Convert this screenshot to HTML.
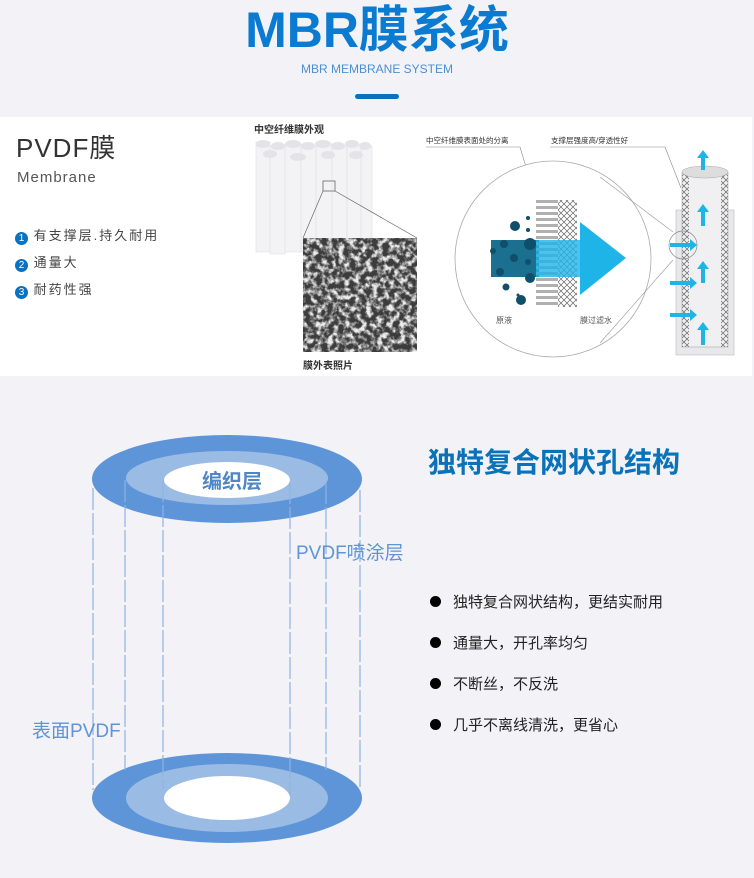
<!DOCTYPE html>
<html><head><meta charset="utf-8"><style>
html,body{margin:0;padding:0}
body{width:754px;height:878px;background:#f2f2f7;position:relative;overflow:hidden;font-family:"Liberation Sans","Noto Sans CJK SC",sans-serif}
.a{position:absolute;white-space:nowrap}
</style></head><body>
<div class="a" style="left:0;top:0;width:754px;text-align:center;top:2px;font-size:50px;font-weight:bold;color:#0a7bd0;line-height:56px">MBR膜系统</div>
<div class="a" style="left:0;width:754px;text-align:center;top:62px;font-size:12px;color:#4a90d4">MBR MEMBRANE SYSTEM</div>
<div class="a" style="left:355px;top:94px;width:44px;height:5px;border-radius:3px;background:#0a72b8"></div>

<div class="a" style="left:0;top:117px;width:752px;height:259px;background:#fff"></div>
<div class="a" style="left:16px;top:128px;font-size:26px;color:#333;letter-spacing:1px">PVDF膜</div>
<div class="a" style="left:17px;top:169px;font-size:15px;color:#555;letter-spacing:1px">Membrane</div>
<div class="a" style="left:15px;top:222px;font-size:13px;color:#444;line-height:27px;letter-spacing:2px">
<div><span style="display:inline-block;width:13px;height:13px;border-radius:50%;background:#0a72c0;color:#fff;font-size:10px;text-align:center;line-height:13px;letter-spacing:0;vertical-align:-1px">1</span> 有支撑层.持久耐用</div>
<div><span style="display:inline-block;width:13px;height:13px;border-radius:50%;background:#0a72c0;color:#fff;font-size:10px;text-align:center;line-height:13px;letter-spacing:0;vertical-align:-1px">2</span> 通量大</div>
<div><span style="display:inline-block;width:13px;height:13px;border-radius:50%;background:#0a72c0;color:#fff;font-size:10px;text-align:center;line-height:13px;letter-spacing:0;vertical-align:-1px">3</span> 耐药性强</div>
</div>
<div class="a" style="left:254px;top:121px;font-size:10px;color:#333;font-weight:bold">中空纤维膜外观</div>
<div class="a" style="left:303px;top:357px;font-size:10px;color:#333;font-weight:bold">膜外表照片</div>

<svg class="a" style="left:0;top:0" width="754" height="878">
<defs>
<filter id="n" x="0" y="0" width="100%" height="100%"><feTurbulence type="fractalNoise" baseFrequency="0.18" numOctaves="3" seed="3"/><feColorMatrix type="matrix" values="0 0 0 0 0.85 0 0 0 0 0.85 0 0 0 0 0.85 0 0 0 3.2 -1.3"/></filter>
<pattern id="x" width="6" height="6" patternUnits="userSpaceOnUse"><path d="M0 0L6 6M6 0L0 6" stroke="#666" stroke-width="0.7"/></pattern>
</defs>
<g fill="#f3f3f5" stroke="#e0e0e4" stroke-width="0.6">
<rect x="256" y="142" width="14" height="110"/><rect x="270" y="146" width="15" height="108"/><rect x="285" y="144" width="16" height="108"/><rect x="301" y="146" width="15" height="106"/><rect x="316" y="144" width="16" height="108"/><rect x="332" y="146" width="15" height="106"/><rect x="347" y="144" width="14" height="108"/><rect x="361" y="146" width="11" height="104"/>
</g>
<g fill="#e4e4e8">
<ellipse cx="263" cy="144" rx="7" ry="4"/><ellipse cx="278" cy="146" rx="7" ry="4"/><ellipse cx="293" cy="144" rx="8" ry="4"/><ellipse cx="308" cy="146" rx="7" ry="4"/><ellipse cx="323" cy="144" rx="8" ry="4"/><ellipse cx="338" cy="146" rx="7" ry="4"/><ellipse cx="352" cy="144" rx="7" ry="4"/><ellipse cx="365" cy="146" rx="6" ry="4"/>
<ellipse cx="270" cy="154" rx="7" ry="4"/><ellipse cx="298" cy="157" rx="8" ry="4"/><ellipse cx="328" cy="155" rx="7" ry="4"/><ellipse cx="356" cy="155" rx="7" ry="4"/>
</g>
<rect x="323" y="181" width="12" height="10" fill="none" stroke="#666" stroke-width="0.8"/>
<line x1="323" y1="191" x2="303" y2="238" stroke="#666" stroke-width="0.7"/><line x1="335" y1="191" x2="417" y2="238" stroke="#666" stroke-width="0.7"/>
<rect x="303" y="238" width="114" height="114" fill="#3c3c3c"/>
<rect x="303" y="238" width="114" height="114" filter="url(#n)"/>
<text x="426" y="143" font-size="7.5" fill="#333" font-family="Liberation Sans,Noto Sans CJK SC,sans-serif">中空纤维膜表面处的分离</text>
<text x="551" y="143" font-size="7.5" fill="#333" font-family="Liberation Sans,Noto Sans CJK SC,sans-serif">支撑层强度高/穿透性好</text>
<polyline points="426,147 520,147 536,200" fill="none" stroke="#888" stroke-width="0.6"/>
<polyline points="550,147 665,147 681,188" fill="none" stroke="#888" stroke-width="0.6"/>
<circle cx="553" cy="259" r="98" fill="#fff" stroke="#aaa" stroke-width="0.8"/>
<line x1="600" y1="177" x2="673" y2="232" stroke="#999" stroke-width="0.6"/><line x1="600" y1="343" x2="673" y2="260" stroke="#999" stroke-width="0.6"/>
<rect x="491" y="240" width="48" height="37" fill="#1b6f8f"/>
<g fill="#b0b0b0"><rect x="536" y="200" width="22" height="3"/><rect x="536" y="206" width="22" height="3"/><rect x="536" y="212" width="22" height="3"/><rect x="536" y="218" width="22" height="3"/><rect x="536" y="224" width="22" height="3"/><rect x="536" y="230" width="22" height="3"/><rect x="536" y="236" width="22" height="3"/><rect x="536" y="242" width="22" height="3"/><rect x="536" y="248" width="22" height="3"/><rect x="536" y="254" width="22" height="3"/><rect x="536" y="260" width="22" height="3"/><rect x="536" y="266" width="22" height="3"/><rect x="536" y="272" width="22" height="3"/><rect x="536" y="278" width="22" height="3"/><rect x="536" y="284" width="22" height="3"/><rect x="536" y="290" width="22" height="3"/><rect x="536" y="296" width="22" height="3"/><rect x="536" y="302" width="22" height="3"/></g>
<rect x="558" y="200" width="19" height="107" fill="url(#x)"/>
<rect x="536" y="240" width="45" height="37" fill="#1fb4e8" opacity="0.8"/>
<polygon points="580,222 626,258 580,295" fill="#1fb4e8"/>
<g fill="#0f4f6a"><circle cx="515" cy="226" r="5"/><circle cx="528" cy="218" r="2"/><circle cx="528" cy="230" r="2"/><circle cx="504" cy="244" r="4"/><circle cx="530" cy="244" r="6"/><circle cx="514" cy="258" r="4"/><circle cx="530" cy="278" r="5"/><circle cx="500" cy="272" r="4"/><circle cx="506" cy="287" r="3.5"/><circle cx="518" cy="295" r="1.5"/><circle cx="521" cy="300" r="5"/><circle cx="493" cy="251" r="3"/><circle cx="528" cy="262" r="3"/></g>
<text x="496" y="323" font-size="8" fill="#555" font-family="Liberation Sans,Noto Sans CJK SC,sans-serif">原液</text>
<text x="580" y="323" font-size="8" fill="#555" font-family="Liberation Sans,Noto Sans CJK SC,sans-serif">膜过滤水</text>
<rect x="676" y="210" width="58" height="145" fill="#e8e8ea" stroke="#bbb" stroke-width="0.6"/>
<rect x="682" y="172" width="46" height="175" fill="#f0f0f2" stroke="#aaa" stroke-width="0.6"/>
<rect x="682" y="172" width="7" height="175" fill="url(#x)"/><rect x="721" y="172" width="7" height="175" fill="url(#x)"/>
<ellipse cx="705" cy="172" rx="23" ry="6" fill="#ddd" stroke="#aaa" stroke-width="0.6"/>
<circle cx="683" cy="245" r="14" fill="none" stroke="#888" stroke-width="0.7"/>
<g fill="#1fb4e8"><polygon points="701,170 701,158 697,158 703,150 709,158 705,158 705,170"/><polygon points="701,226 701,212 697,212 703,204 709,212 705,212 705,226"/><polygon points="701,283 701,269 697,269 703,261 709,269 705,269 705,283"/><polygon points="701,345 701,330 697,330 703,322 709,330 705,330 705,345"/>
<polygon points="670,243 690,243 690,239 697,245 690,251 690,247 670,247"/><polygon points="670,281 690,281 690,277 697,283 690,289 690,285 670,285"/><polygon points="670,313 690,313 690,309 697,315 690,321 690,317 670,317"/></g>

<ellipse cx="227" cy="798" rx="135" ry="45" fill="#5e95d8"/>
<ellipse cx="227" cy="798" rx="101" ry="34" fill="#9abce4"/>
<ellipse cx="227" cy="798" rx="63" ry="22" fill="#fff"/>
<ellipse cx="227" cy="479" rx="135" ry="44" fill="#5e95d8"/>
<ellipse cx="227" cy="478" rx="101" ry="27" fill="#9abce4"/>
<ellipse cx="227" cy="480" rx="63" ry="18" fill="#fff"/>
<g stroke="#8fb3e2" stroke-width="1.2" stroke-dasharray="22,3">
<line x1="93" y1="488" x2="93" y2="790"/><line x1="125" y1="480" x2="125" y2="770"/><line x1="163" y1="480" x2="163" y2="790"/><line x1="290" y1="482" x2="290" y2="795"/><line x1="326" y1="482" x2="326" y2="770"/><line x1="360" y1="490" x2="360" y2="790"/>
</g>
</svg>
<div class="a" style="left:202px;top:465px;font-size:20px;color:#4f86c6;font-weight:bold">编织层</div>
<div class="a" style="left:296px;top:538px;font-size:19px;color:#5e95d8">PVDF喷涂层</div>
<div class="a" style="left:32px;top:716px;font-size:19px;color:#5e95d8">表面PVDF</div>
<div class="a" style="left:428px;top:441px;font-size:28px;font-weight:bold;color:#0a72b8">独特复合网状孔结构</div>
<div class="a" style="left:430px;top:582px;font-size:15px;color:#222;line-height:41px">
<div><span style="display:inline-block;width:11px;height:11px;border-radius:50%;background:#000;margin-right:12px;vertical-align:0"></span>独特复合网状结构，更结实耐用</div>
<div><span style="display:inline-block;width:11px;height:11px;border-radius:50%;background:#000;margin-right:12px;vertical-align:0"></span>通量大，开孔率均匀</div>
<div><span style="display:inline-block;width:11px;height:11px;border-radius:50%;background:#000;margin-right:12px;vertical-align:0"></span>不断丝，不反洗</div>
<div><span style="display:inline-block;width:11px;height:11px;border-radius:50%;background:#000;margin-right:12px;vertical-align:0"></span>几乎不离线清洗，更省心</div>
</div>
</body></html>
